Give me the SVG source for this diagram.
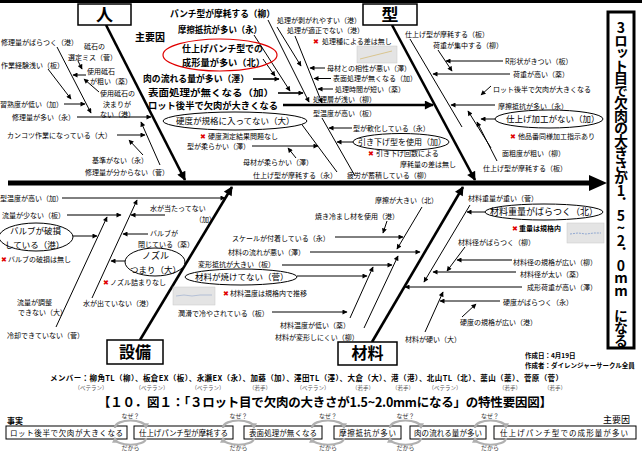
<svg xmlns="http://www.w3.org/2000/svg" width="642" height="451" viewBox="0 0 642 451">
<defs>
<style>
text{font-family:"Noto Sans CJK JP","Noto Sans",sans-serif;fill:#000}
.t{font-size:7px}
.b{font-size:9px;font-weight:bold}
.e{font-size:8.5px}
.r{fill:#e00000;font-family:"DejaVu Sans",sans-serif;font-size:7px}
.ln{stroke:#000;stroke-width:1;fill:none}
.lg{stroke:#7a7a7a;stroke-width:1.8;fill:none}
.lb{stroke:#000;stroke-width:1.6;fill:none}
.bone{stroke:#000;stroke-width:2.6;fill:none}
.box{fill:#fff;stroke:#000;stroke-width:1.5}
.ell{fill:#fff;stroke:#000;stroke-width:1}
.chart{fill:#e4e4e4;stroke:#c8c8c8;stroke-width:.5}
.m{font-size:7.5px;font-weight:bold}
.s{font-size:5.5px;fill:#555}
.cb{fill:#fff;stroke:#000;stroke-width:1}
.ct{font-size:7.5px}
.sw{stroke:#b0b0b0;stroke-width:2.2;fill:none}
.w{font-size:6px;fill:#333}
.big{font-size:17px;font-weight:bold}
.eff{font-size:14px;font-weight:bold;writing-mode:vertical-rl;text-orientation:upright;letter-spacing:-1.5px}
</style>
<marker id="a" viewBox="0 0 10 10" refX="9" refY="5" markerWidth="6" markerHeight="5" markerUnits="userSpaceOnUse" orient="auto"><path d="M0,0L10,5L0,10z" fill="#000"/></marker>
<marker id="A" viewBox="0 0 10 10" refX="9" refY="5" markerWidth="11" markerHeight="9" markerUnits="userSpaceOnUse" orient="auto"><path d="M0,0L10,5L0,10z" fill="#000"/></marker>
<marker id="sa" viewBox="0 0 10 10" refX="8" refY="5" markerWidth="6" markerHeight="6" markerUnits="userSpaceOnUse" orient="auto"><path d="M0,0L10,5L0,10z" fill="#b0b0b0"/></marker>
</defs>
<rect x="0" y="0" width="642" height="451" fill="#fff"/>
<rect x="0" y="0" width="642" height="3" fill="#000"/>

<g id="connectors">
<line x1="8" y1="183" x2="592" y2="183" stroke="#000" stroke-width="5"/>
<path d="M589,175L607,183L589,191z" fill="#000"/>
<line class="bone" x1="106" y1="25" x2="185" y2="180" marker-end="url(#A)"/>
<line class="bone" x1="392" y1="25" x2="475" y2="180" marker-end="url(#A)"/>
<line class="bone" x1="140" y1="340" x2="232" y2="187" marker-end="url(#A)"/>
<line class="bone" x1="372" y1="342" x2="463" y2="187" marker-end="url(#A)"/>
<line class="ln" x1="57" y1="47" x2="91" y2="113" marker-end="url(#a)"/>
<line class="ln" x1="48" y1="69" x2="71" y2="99" marker-end="url(#a)"/>
<line class="ln" x1="64" y1="104" x2="85" y2="104" marker-end="url(#a)"/>
<line class="ln" x1="78" y1="61" x2="82" y2="69" marker-end="url(#a)"/>
<line class="ln" x1="86" y1="75" x2="73" y2="75" marker-end="url(#a)"/>
<line class="ln" x1="99" y1="92" x2="84" y2="79" marker-end="url(#a)"/>
<line class="lg" x1="77" y1="117" x2="151" y2="117" marker-end="url(#a)"/>
<line class="ln" x1="117" y1="135" x2="145" y2="135" marker-end="url(#a)"/>
<line class="ln" x1="160" y1="165" x2="141" y2="122" marker-end="url(#a)"/>
<line class="ln" x1="143" y1="155" x2="129" y2="140" marker-end="url(#a)"/>
<line class="ln" x1="263" y1="59" x2="275" y2="76" marker-end="url(#a)"/>
<line class="lb" x1="253" y1="79" x2="279" y2="79" marker-end="url(#a)"/>
<line class="ln" x1="254" y1="35" x2="290" y2="91" marker-end="url(#a)"/>
<line class="lb" x1="278" y1="93" x2="303" y2="93" marker-end="url(#a)"/>
<line class="ln" x1="268" y1="20" x2="309" y2="102" marker-end="url(#a)"/>
<line class="bone" x1="283" y1="105" x2="433" y2="105" marker-end="url(#A)"/>
<line class="ln" x1="277" y1="27" x2="301" y2="66" marker-end="url(#a)"/>
<line class="ln" x1="295" y1="36" x2="322" y2="103" marker-end="url(#a)"/>
<line class="ln" x1="325" y1="68" x2="310" y2="68" marker-end="url(#a)"/>
<line class="ln" x1="331" y1="78.5" x2="314" y2="78.5" marker-end="url(#a)"/>
<line class="ln" x1="333" y1="89" x2="318" y2="89" marker-end="url(#a)"/>
<line class="ln" x1="300" y1="122" x2="337" y2="172"/>
<line class="ln" x1="322" y1="118" x2="355" y2="176"/>
<line class="ln" x1="252" y1="146" x2="318" y2="146" marker-end="url(#a)"/>
<line class="ln" x1="352" y1="128" x2="329" y2="128" marker-end="url(#a)"/>
<line class="ln" x1="353" y1="142" x2="337" y2="142" marker-end="url(#a)"/>
<line class="ln" x1="296" y1="158" x2="288" y2="148" marker-end="url(#a)"/>
<line class="ln" x1="410" y1="39" x2="462" y2="127"/>
<line class="ln" x1="438" y1="50" x2="452" y2="71" marker-end="url(#a)"/>
<line class="ln" x1="503" y1="61" x2="446" y2="61" marker-end="url(#a)"/>
<line class="ln" x1="510" y1="74" x2="433" y2="74" marker-end="url(#a)"/>
<line class="ln" x1="491" y1="86" x2="481" y2="95" marker-end="url(#a)"/>
<line class="lg" x1="495" y1="105" x2="451" y2="105" marker-end="url(#a)"/>
<line class="ln" x1="495" y1="119" x2="481" y2="119" marker-end="url(#a)"/>
<line class="ln" x1="491" y1="148" x2="468" y2="111" marker-end="url(#a)"/>
<line class="ln" x1="497" y1="161" x2="477" y2="122" marker-end="url(#a)"/>
<line class="ln" x1="62" y1="198" x2="225" y2="198" marker-end="url(#a)"/>
<line class="ln" x1="92" y1="298" x2="137" y2="200" marker-end="url(#a)"/>
<line class="lg" x1="67" y1="215" x2="121" y2="215" marker-end="url(#a)"/>
<line class="lg" x1="165" y1="215" x2="131" y2="215" marker-end="url(#a)"/>
<line class="ln" x1="56" y1="327" x2="107" y2="217" marker-end="url(#a)"/>
<line class="ln" x1="73" y1="236" x2="97" y2="236" marker-end="url(#a)"/>
<line class="ln" x1="148" y1="234" x2="123" y2="234" marker-end="url(#a)"/>
<line class="ln" x1="125" y1="261" x2="111" y2="261" marker-end="url(#a)"/>
<line class="ln" x1="422" y1="207" x2="397" y2="249" marker-end="url(#a)"/>
<line class="ln" x1="387" y1="221" x2="383" y2="233" marker-end="url(#a)"/>
<line class="ln" x1="335" y1="237" x2="403" y2="237" marker-end="url(#a)"/>
<line class="ln" x1="310" y1="252" x2="420" y2="252" marker-end="url(#a)"/>
<line class="lg" x1="282" y1="265" x2="392" y2="265" marker-end="url(#a)"/>
<line class="ln" x1="364" y1="328" x2="398" y2="256" marker-end="url(#a)"/>
<line class="ln" x1="297" y1="276" x2="367" y2="276" marker-end="url(#a)"/>
<line class="ln" x1="350" y1="318" x2="373" y2="267" marker-end="url(#a)"/>
<line class="ln" x1="272" y1="312" x2="347" y2="312" marker-end="url(#a)"/>
<line class="ln" x1="470" y1="205" x2="424" y2="282" marker-end="url(#a)"/>
<line class="ln" x1="485" y1="212" x2="467" y2="212" marker-end="url(#a)"/>
<line class="ln" x1="465" y1="247" x2="447" y2="271" marker-end="url(#a)"/>
<line class="lg" x1="512" y1="260" x2="457" y2="260" marker-end="url(#a)"/>
<line class="lg" x1="516" y1="272" x2="433" y2="272" stroke-width="2.5" marker-end="url(#a)"/>
<line class="ln" x1="522" y1="287" x2="405" y2="287" marker-end="url(#a)"/>
<line class="ln" x1="500" y1="301" x2="440" y2="301" marker-end="url(#a)"/>
<line class="ln" x1="425" y1="332" x2="443" y2="292" marker-end="url(#a)"/>
<line class="ln" x1="462" y1="317" x2="476" y2="304" marker-end="url(#a)"/>
</g>

<g id="effect"><rect x="608" y="12" width="26" height="336" fill="#fff" stroke="#000" stroke-width="3"/>
<text class="eff" x="621" y="21">3ロット目で欠肉の大きさが1．5~2．0mm になる</text></g>

<g id="cat-hito"><rect class="box" x="78" y="4" width="53" height="21"/><text class="big" x="104.5" y="21" text-anchor="middle">人</text></g>
<g id="cat-kata"><rect class="box" x="363" y="4" width="54" height="21"/><text class="big" x="390" y="21" text-anchor="middle">型</text></g>
<g id="cat-setsubi"><rect class="box" x="107" y="340" width="56" height="24"/><text class="big" x="135" y="358" text-anchor="middle" style="font-size:16px">設備</text></g>
<g id="cat-zairyo"><rect class="box" x="338" y="342" width="59" height="23"/><text class="big" x="367.5" y="359" text-anchor="middle" style="font-size:16px">材料</text></g>

<g id="h1"><text class="t" x="1" y="44.5">修理量がばらつく（港）</text></g>
<g id="h2"><text class="t" x="84" y="49">砥石の</text><text class="t" x="68" y="59.5">選定ミス（菅）</text></g>
<g id="h3"><text class="t" x="1" y="67.5">作業経験浅い（板）</text></g>
<g id="h4"><text class="t" x="87" y="73.5">使用砥石</text><text class="t" x="90" y="84">が粗い（薬）</text></g>
<g id="h5"><text class="t" x="0" y="106.5">習熟度が低い（加）</text></g>
<g id="h6"><text class="t" x="100" y="96">使用砥石の</text><text class="t" x="103" y="106.5">決まりが</text><text class="t" x="100" y="117">ない（港）</text></g>
<g id="h7"><text class="t" x="12" y="119.5">修理量が多い（永）</text></g>
<g id="h8"><text class="t" x="7" y="137.5">カンコツ作業になっている（大）</text></g>
<g id="h9"><text class="t" x="92" y="162.5">基準がない（永）</text></g>
<g id="h10"><text class="t" x="85" y="174.5">修理量が分からない（菅）</text></g>

<g id="k0"><text class="b" x="135" y="41" style="font-size:10px">主要因</text></g>
<g id="k1"><text class="b" x="170" y="17" textLength="105" lengthAdjust="spacingAndGlyphs">パンチ型が摩耗する（柳）</text></g>
<g id="k2"><text class="b" x="178" y="33" textLength="84" lengthAdjust="spacingAndGlyphs">摩擦抵抗が多い（永）</text></g>
<g id="k3"><ellipse cx="220" cy="55" rx="57" ry="16" fill="none" stroke="#e00000" stroke-width="1.2"/><text class="b" x="182" y="51.5" textLength="81" lengthAdjust="spacingAndGlyphs">仕上げパンチ型での</text><text class="b" x="182" y="65.5" textLength="83" lengthAdjust="spacingAndGlyphs">成形量が多い（北）</text></g>
<g id="k4"><text class="b" x="143" y="82" textLength="106" lengthAdjust="spacingAndGlyphs">肉の流れる量が多い（澤）</text></g>
<g id="k5"><text class="b" x="148" y="95.8" textLength="126" lengthAdjust="spacingAndGlyphs">表面処理が無くなる（加）</text></g>
<g id="k6"><text class="b" x="148" y="109.4" textLength="130" lengthAdjust="spacingAndGlyphs">ロット後半で欠肉が大きくなる</text></g>

<g id="p1"><text class="t" x="277" y="22.5">処理が剥がれやすい（港）</text></g>
<g id="p2"><text class="t" x="287" y="33">処理が適正でない（港）</text></g>
<g id="p3"><text class="r" x="313" y="43.5">✖</text><text class="t" x="322" y="43.5">処理種による差は無し</text></g>
<g id="chart1"><rect class="chart" x="357" y="46" width="40" height="17"/><polyline points="360,59 368,57 376,55 384,53 392,51" fill="none" stroke="#d4b86a" stroke-width=".7"/></g>
<g id="p4"><text class="t" x="327" y="70.5">母材との相性が悪い（澤）</text></g>
<g id="p5"><text class="t" x="333" y="81">表面処理が無くなる（加）</text></g>
<g id="p6"><text class="t" x="335" y="91.5">処理時間が短い（薬）</text></g>
<g id="p7"><text class="t" x="313" y="102">処理層が浅い（柳）</text></g>
<g id="p8"><text class="t" x="313" y="115.5">型温度が高い（板）</text></g>
<g id="p9"><ellipse class="ell" cx="235" cy="121" rx="72" ry="9"/><text class="e" x="176" y="124">硬度が規格に入ってない（大）</text></g>
<g id="p10"><text class="r" x="200" y="138.5">✖</text><text class="t" x="208" y="138.5">硬度測定結果問題なし</text></g>
<g id="p11"><text class="t" x="187" y="149.2">型が柔らかい（澤）</text></g>
<g id="p12"><text class="t" x="353" y="130.5">型が軟化している（永）</text></g>
<g id="p13"><ellipse class="ell" cx="401" cy="142" rx="48" ry="8.5"/><text class="e" x="358" y="145" style="font-size:8px">引き下げ型を使用（加）</text></g>
<g id="p14"><text class="r" x="368" y="156">✖</text><text class="t" x="376" y="156">引き下げ回数による</text></g>
<g id="p15"><text class="t" x="400" y="166.5">摩耗量の差は無し</text></g>
<g id="p16"><text class="t" x="243" y="164.5">母材が柔らかい（澤）</text></g>
<g id="p17"><text class="t" x="253" y="177.5">仕上げ型が摩耗する（永）</text></g>
<g id="p18"><text class="t" x="347" y="178">疲労が蓄積している（柳）</text></g>

<g id="q1"><text class="t" x="405" y="36.5">仕上げ型が摩耗する（板）</text></g>
<g id="q2"><text class="t" x="433" y="47.5">荷重が集中する（柳）</text></g>
<g id="q3"><text class="t" x="505" y="63.5">R形状がきつい（板）</text></g>
<g id="q4"><text class="t" x="513" y="76.5">荷重が高い（薬）</text></g>
<g id="q5"><text class="t" x="493" y="91.5">ロット後半で欠肉が大きくなる</text></g>
<g id="q6"><text class="t" x="498" y="108.5">摩擦抵抗が多い（永）</text></g>
<g id="q7"><ellipse class="ell" cx="549" cy="119" rx="54" ry="9"/><text class="e" x="506" y="122">仕上げ加工がない（加）</text></g>
<g id="q8"><text class="r" x="510" y="138.5">✖</text><text class="t" x="518" y="138.5">他品番同様加工指示あり</text></g>
<g id="q9"><text class="t" x="502" y="155.5">面粗度が粗い（柳）</text></g>
<g id="q10"><text class="t" x="483" y="170.5">仕上げ型が摩耗する（板）</text></g>

<g id="s1"><text class="t" x="0" y="200.5">型温度が高い（加）</text></g>
<g id="s2"><text class="t" x="2" y="217.5">流量が少ない（板）</text></g>
<g id="s3"><ellipse class="ell" cx="36" cy="237" rx="37" ry="14"/><text class="e" x="10" y="234">バルブが破損</text><text class="e" x="5" y="247.5">している（港）</text></g>
<g id="s4"><text class="r" x="1" y="261.5">✖</text><text class="t" x="8" y="261.5">バルブの破損は無し</text></g>
<g id="s5"><text class="t" x="150" y="210.5">水が当たってない</text><text class="t" x="195" y="221.5">（加）</text></g>
<g id="s6"><text class="t" x="150" y="235.8">バルブが</text><text class="t" x="138" y="246.8">閉じている（薬）</text></g>
<g id="s7"><ellipse class="ell" cx="155" cy="262" rx="30" ry="14"/><text class="e" x="142" y="259" style="font-size:9px">ノズル</text><text class="e" x="130" y="272.5">つまり（大）</text></g>
<g id="s8"><text class="r" x="103" y="284.5">✖</text><text class="t" x="110" y="284.5">ノズル詰まりなし</text></g>
<g id="s9"><text class="t" x="17" y="304.5">流量が調整</text><text class="t" x="18" y="315">できない（大）</text></g>
<g id="s10"><text class="t" x="83" y="305.5">水が出ていない（港）</text></g>
<g id="s11"><text class="t" x="7" y="337.5">冷却できていない（菅）</text></g>

<g id="z1"><text class="t" x="375" y="202.5">摩擦が大きい（北）</text></g>
<g id="z2"><text class="t" x="315" y="218.5">焼き冷まし材を使用（港）</text></g>
<g id="z3"><text class="t" x="232" y="240.5">スケールが付着している（永）</text></g>
<g id="z4"><text class="t" x="228" y="255.3">材料の流れが悪い（澤）</text></g>
<g id="z5"><text class="t" x="198" y="266.7">変形抵抗が大きい（板）</text></g>
<g id="z6"><ellipse class="ell" cx="241" cy="277" rx="56" ry="8"/><text class="e" x="195" y="280">材料が焼けてない（菅）</text></g>
<g id="chart2"><rect class="chart" x="173" y="287" width="42" height="18"/><polyline points="176,296 184,295 192,296 200,295 212,295" fill="none" stroke="#9fb0d0" stroke-width=".7"/></g>
<g id="z7"><text class="r" x="223" y="295.5">✖</text><text class="t" x="230" y="295.5">材料温度は規格内で推移</text></g>
<g id="z8"><text class="t" x="178" y="315.5">潤滑で冷やされている（板）</text></g>
<g id="z9"><text class="t" x="280" y="327.5">材料温度が低い（薬）</text></g>
<g id="z10"><text class="t" x="275" y="339.5">材料が変形しにくい（柳）</text></g>
<g id="z11"><text class="t" x="468" y="200.5">材料重量が重い（菅）</text></g>
<g id="z12"><ellipse class="ell" cx="544" cy="212" rx="59" ry="8"/><text class="e" x="490" y="215" style="font-size:9px">材料重量がばらつく（北）</text></g>
<g id="z13"><text class="r" x="512" y="230.5">✖</text><text class="t" x="519" y="230.5" style="font-weight:bold">重量は規格内</text></g>
<g id="chart3"><rect class="chart" x="567" y="223" width="37" height="20"/><polyline points="570,234 578,233 586,234 594,233 601,233" fill="none" stroke="#6f8fc8" stroke-width=".7" stroke-dasharray="2 1"/></g>
<g id="z14"><text class="t" x="458" y="244.5">材料径がばらつく（柳）</text></g>
<g id="z15"><text class="t" x="513" y="264.5">材料径の規格が広い（柳）</text></g>
<g id="z16"><text class="t" x="520" y="276.5">材料径が太い（薬）</text></g>
<g id="z17"><text class="t" x="527" y="289.5">成形荷重が高い（澤）</text></g>
<g id="z18"><text class="t" x="503" y="304.5">硬度がばらつく（永）</text></g>
<g id="z19"><text class="t" x="460" y="324.5">硬度の規格が広い（港）</text></g>
<g id="z20"><text class="t" x="405" y="341.5">材料が硬い（大）</text></g>

<g id="date"><text class="t" x="525" y="358" style="font-weight:bold;font-size:6.5px">作成日：4月19日</text><text class="t" x="525" y="368" style="font-weight:bold;font-size:6.5px">作成者：ダイレンジャーサークル全員</text></g>
<g id="members"><text class="m" x="50" y="381" textLength="513" lengthAdjust="spacing">メンバー：柳角TL（柳）、板倉EX（板）、永瀬EX（永）、加藤（加）、澤田TL（澤）、大倉（大）、港（港）、北山TL（北）、薬山（薬）、菅原（菅）</text>
<text class="s" text-anchor="middle" y="390"><tspan x="91">（ベテラン）</tspan><tspan x="152">（ベテラン）</tspan><tspan x="208">（ベテラン）</tspan><tspan x="260">（若手）</tspan><tspan x="313">（ベテラン）</tspan><tspan x="363">（若手）</tspan><tspan x="403">（若手）</tspan><tspan x="445">（ベテラン）</tspan><tspan x="510">（若手）</tspan><tspan x="555">（若手）</tspan></text></g>
<g id="title"><text x="98" y="407" style="font-size:12.5px;font-weight:bold" textLength="454" lengthAdjust="spacing">【１０．図１：「３ロット目で欠肉の大きさが1.5~2.0mmになる」の特性要因図】</text></g>

<g id="chain">
<text class="t" x="7" y="424" style="font-weight:bold;font-size:8px">事実</text>
<text class="t" x="603" y="423" style="font-size:9px">主要因</text>
<g id="c1"><rect class="cb" x="6" y="426" width="121" height="13"/><text class="ct" x="10" y="435.5" textLength="113" lengthAdjust="spacing">ロット後半で欠肉が大きくなる</text></g>
<g id="c2"><rect class="cb" x="134" y="426" width="99" height="13"/><text class="ct" x="139" y="435.5" textLength="89" lengthAdjust="spacing">仕上げパンチ型が摩耗する</text></g>
<g id="c3"><rect class="cb" x="244" y="426" width="78" height="13"/><text class="ct" x="249" y="435.5" textLength="68" lengthAdjust="spacing">表面処理が無くなる</text></g>
<g id="c4"><rect class="cb" x="334" y="426" width="67" height="13"/><text class="ct" x="339" y="435.5" textLength="57" lengthAdjust="spacing">摩擦抵抗が多い</text></g>
<g id="c5"><rect class="cb" x="410" y="426" width="76" height="13"/><text class="ct" x="414" y="435.5" textLength="68" lengthAdjust="spacing">肉の流れる量が多い</text></g>
<g id="c6"><rect class="cb" x="494" y="426" width="142" height="13"/><text class="ct" x="500" y="435.5" textLength="128" lengthAdjust="spacing">仕上げパンチ型での成形量が多い</text></g>
<g id="sw" class="sw">
<path d="M115,428C115,418 146,418 146,428" marker-end="url(#sa)"/><path d="M146,438C146,447 115,447 115,438" marker-end="url(#sa)"/>
<path d="M223,428C223,418 254,418 254,428" marker-end="url(#sa)"/><path d="M254,438C254,447 223,447 223,438" marker-end="url(#sa)"/>
<path d="M312,428C312,418 344,418 344,428" marker-end="url(#sa)"/><path d="M344,438C344,447 312,447 312,438" marker-end="url(#sa)"/>
<path d="M390,428C390,418 421,418 421,428" marker-end="url(#sa)"/><path d="M421,438C421,447 390,447 390,438" marker-end="url(#sa)"/>
<path d="M475,428C475,418 506,418 506,428" marker-end="url(#sa)"/><path d="M506,438C506,447 475,447 475,438" marker-end="url(#sa)"/>
</g>
<text class="w" text-anchor="middle" y="418"><tspan x="130.5">なぜ？</tspan><tspan x="238.5">なぜ？</tspan><tspan x="328">なぜ？</tspan><tspan x="405.5">なぜ？</tspan><tspan x="490">なぜ？</tspan></text>
<text class="w" text-anchor="middle" y="450"><tspan x="130.5">だから</tspan><tspan x="238.5">だから</tspan><tspan x="328">だから</tspan><tspan x="405.5">だから</tspan><tspan x="490">だから</tspan></text>
</g>
</svg>
